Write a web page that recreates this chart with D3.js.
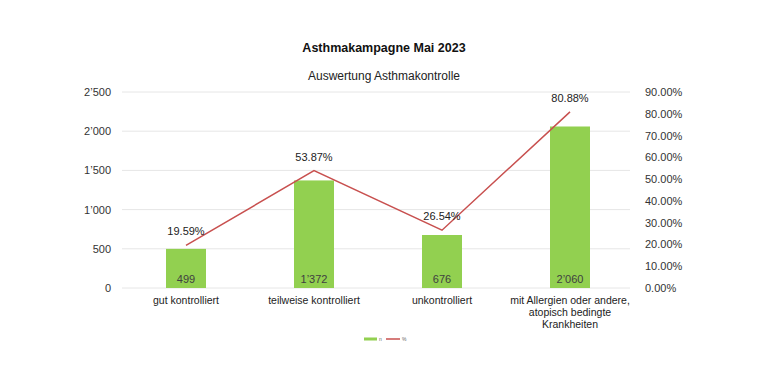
<!DOCTYPE html>
<html>
<head>
<meta charset="utf-8">
<script src="https://cdn.jsdelivr.net/npm/d3@7"></script>
<style>
body { margin: 0; background: #fff; }
text { font-family: "Liberation Sans", Arial, sans-serif; }
</style>
</head>
<body>
<div id="chart"></div>
<script>
var width = 768;
var height = 384;

var categories = ["gut kontrolliert", "teilweise kontrolliert", "unkontrolliert", "mit Allergien oder andere, atopisch bedingte Krankheiten"];
var nValues = [499, 1372, 676, 2060];
var pctValues = [19.59, 53.87, 26.54, 80.88];
var leftTicks = [0, 500, 1000, 1500, 2000, 2500];
var rightTicks = [0, 10, 20, 30, 40, 50, 60, 70, 80, 90];

var plotL = 122, plotR = 634, plotT = 92, plotB = 288;

var svg = d3.select("#chart")
    .append("svg")
    .attr("width", width)
    .attr("height", height);

var fmt = function(v) {
    return d3.format(",")(v).replace(/,/g, "\u2019");
};

var x = d3.scaleBand().domain(categories).range([plotL, plotR]).padding(0);
var y = d3.scaleLinear().domain([0, 2500]).range([plotB, plotT]);
var y2 = d3.scaleLinear().domain([0, 90]).range([plotB, plotT]);

// titles
svg.append("text").attr("x", 384).attr("y", 52).attr("text-anchor", "middle")
    .attr("font-size", 12.5).attr("font-weight", "bold").attr("fill", "#111")
    .text("Asthmakampagne Mai 2023");
svg.append("text").attr("x", 384).attr("y", 80).attr("text-anchor", "middle")
    .attr("font-size", 12).attr("fill", "#222")
    .text("Auswertung Asthmakontrolle");

// grid
svg.selectAll("line.grid")
    .data(leftTicks)
    .enter()
    .append("line")
    .attr("x1", plotL).attr("x2", plotR - 4)
    .attr("y1", function(d) { return y(d); })
    .attr("y2", function(d) { return y(d); })
    .attr("stroke", "#e6e6e6").attr("stroke-width", 1);

// left axis
var yAxis = svg.append("g").attr("transform", "translate(" + (plotL - 8) + ",0)")
    .call(d3.axisLeft(y).tickValues(leftTicks).tickSize(0).tickFormat(fmt));
yAxis.select(".domain").remove();
yAxis.selectAll("text").attr("font-size", 11).attr("fill", "#333");

// right axis
var y2Axis = svg.append("g").attr("transform", "translate(" + (plotR + 8) + ",0)")
    .call(d3.axisRight(y2).tickValues(rightTicks).tickSize(0).tickFormat(function(d) { return d.toFixed(2) + "%"; }));
y2Axis.select(".domain").remove();
y2Axis.selectAll("text").attr("font-size", 11).attr("fill", "#333");

// bars
var barW = 40;
svg.selectAll("rect.bar")
    .data(nValues)
    .enter()
    .append("rect")
    .attr("x", function(d, i) { return x(categories[i]) + x.bandwidth() / 2 - barW / 2; })
    .attr("y", function(d) { return y(d); })
    .attr("width", barW)
    .attr("height", function(d) { return plotB - y(d); })
    .attr("fill", "#92d050");

svg.selectAll("text.barlab")
    .data(nValues)
    .enter()
    .append("text")
    .attr("x", function(d, i) { return x(categories[i]) + x.bandwidth() / 2; })
    .attr("y", plotB - 5)
    .attr("text-anchor", "middle")
    .attr("font-size", 11)
    .attr("fill", "#404040")
    .text(fmt);

// line
var line = d3.line()
    .x(function(d, i) { return x(categories[i]) + x.bandwidth() / 2; })
    .y(function(d) { return y2(d); });
svg.append("path")
    .datum(pctValues)
    .attr("d", line)
    .attr("fill", "none")
    .attr("stroke", "#c8504f")
    .attr("stroke-width", 1.5);

svg.selectAll("text.pctlab")
    .data(pctValues)
    .enter()
    .append("text")
    .attr("x", function(d, i) { return x(categories[i]) + x.bandwidth() / 2; })
    .attr("y", function(d) { return y2(d) - 10; })
    .attr("text-anchor", "middle")
    .attr("font-size", 11)
    .attr("fill", "#222")
    .text(function(d) { return d.toFixed(2) + "%"; });

// x labels
var xlabLines = [["gut kontrolliert"], ["teilweise kontrolliert"], ["unkontrolliert"],
    ["mit Allergien oder andere,", "atopisch bedingte", "Krankheiten"]];
svg.selectAll("text.xlab")
    .data(xlabLines)
    .enter()
    .append("text")
    .attr("x", function(d, i) { return x(categories[i]) + x.bandwidth() / 2; })
    .attr("y", plotB + 16)
    .attr("text-anchor", "middle")
    .attr("font-size", 10.5)
    .attr("fill", "#222")
    .each(function(d, i) {
        var t = d3.select(this);
        var cx = x(categories[i]) + x.bandwidth() / 2;
        d.forEach(function(s, j) {
            t.append("tspan").attr("x", cx).attr("dy", j === 0 ? 0 : 12).text(s);
        });
    });

// legend
var lg = svg.append("g").attr("transform", "translate(364,339)");
lg.append("rect").attr("x", 0).attr("y", -1.5).attr("width", 13).attr("height", 3).attr("fill", "#92d050");
lg.append("text").attr("x", 15).attr("y", 2).attr("font-size", 5).attr("fill", "#666").text("n");
lg.append("line").attr("x1", 22).attr("x2", 36).attr("y1", 0).attr("y2", 0).attr("stroke", "#c8504f").attr("stroke-width", 1.5);
lg.append("text").attr("x", 38).attr("y", 2).attr("font-size", 5).attr("fill", "#666").text("%");
</script>
</body>
</html>
